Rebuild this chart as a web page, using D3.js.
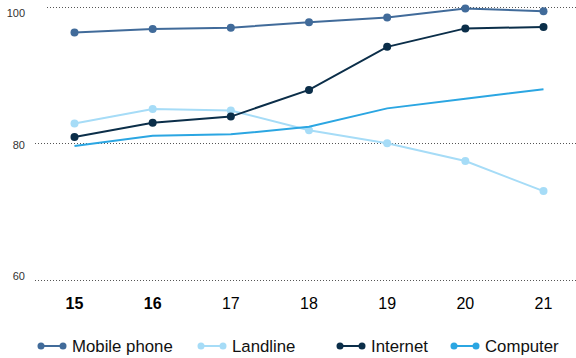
<!DOCTYPE html>
<html>
<head>
<meta charset="utf-8">
<script src="https://cdn.jsdelivr.net/npm/d3@7"></script>
<style>
  html, body { margin: 0; padding: 0; background: #fff; }
  svg { display: block; font-family: "Liberation Sans", Arial, sans-serif; }
</style>
</head>
<body>
<svg id="chart" width="576" height="358"></svg>
<script>
const years = ["15", "16", "17", "18", "19", "20", "21"];
const boldYears = ["15", "16"];
const yTicks = [60, 80, 100];
const seriesNames = ["Mobile phone", "Landline", "Internet", "Computer"];
const mobilePhone = [96.2, 96.7, 96.9, 97.7, 98.4, 99.7, 99.3];
const landline = [82.9, 85.0, 84.8, 81.9, 80.0, 77.4, 73.0];
const internet = [80.9, 83.0, 83.9, 87.8, 94.1, 96.8, 97.0];
const computer = [79.6, 81.1, 81.3, 82.4, 85.1, 86.5, 87.9];
const colors = ["#416b9a", "#a6dcf7", "#0b2e49", "#2ba6e2"];
const showMarkers = [true, true, true, false];

const series = [mobilePhone, landline, internet, computer].map((vals, i) => ({
  name: seriesNames[i], values: vals, color: colors[i], markers: showMarkers[i]
}));

const svg = d3.select("#chart");
const x = d3.scalePoint().domain(years).range([74.5, 543.5]);
const y = d3.scaleLinear().domain([60, 100]).range([280, 6.5]);
const yLabel = d3.scaleLinear().domain([60, 100]).range([277.5, 14]);

// gridlines
const grid = svg.append("g");
grid.selectAll("line").data(yTicks).join("line")
  .attr("x1", d => d === 100 ? 47 : 35).attr("x2", 576)
  .attr("y1", d => Math.round(y(d)) + 0.5).attr("y2", d => Math.round(y(d)) + 0.5)
  .attr("stroke", "#555").attr("stroke-width", 1)
  .attr("stroke-dasharray", "1,2");

// y labels
svg.append("g").selectAll("text").data(yTicks).join("text")
  .attr("x", 25).attr("y", d => yLabel(d))
  .attr("text-anchor", "end").attr("dominant-baseline", "middle")
  .attr("font-size", 11).attr("fill", "#333")
  .text(d => d);

// x labels
svg.append("g").selectAll("text").data(years).join("text")
  .attr("x", d => x(d)).attr("y", 309)
  .attr("text-anchor", "middle")
  .attr("font-size", 16)
  .attr("font-weight", d => boldYears.includes(d) ? "bold" : "normal")
  .attr("fill", "#000")
  .text(d => d);

const line = d3.line().x((d, i) => x(years[i])).y(d => y(d));

const g = svg.append("g");
series.forEach(s => {
  g.append("path").datum(s.values)
    .attr("d", line)
    .attr("fill", "none").attr("stroke", s.color).attr("stroke-width", 2);
  if (s.markers) {
    g.selectAll(null).data(s.values).join("circle")
      .attr("cx", (d, i) => x(years[i])).attr("cy", d => y(d))
      .attr("r", 4).attr("fill", s.color);
  }
});

// legend
const legendX = [38, 198, 337, 451];
const legendY = 346;
const lg = svg.append("g");
series.forEach((s, i) => {
  const gx = legendX[i];
  const item = lg.append("g").attr("transform", `translate(${gx},${legendY})`);
  item.append("line").attr("x1", 0).attr("x2", 28).attr("y1", 0).attr("y2", 0)
    .attr("stroke", s.color).attr("stroke-width", 2);
  item.append("circle").attr("cx", 3).attr("cy", 0).attr("r", 3.5).attr("fill", s.color);
  item.append("circle").attr("cx", 25).attr("cy", 0).attr("r", 3.5).attr("fill", s.color);
  item.append("text").attr("x", 34).attr("y", 0)
    .attr("dominant-baseline", "central")
    .attr("font-size", 16.8).attr("fill", "#111")
    .text(s.name);
});
</script>
</body>
</html>
